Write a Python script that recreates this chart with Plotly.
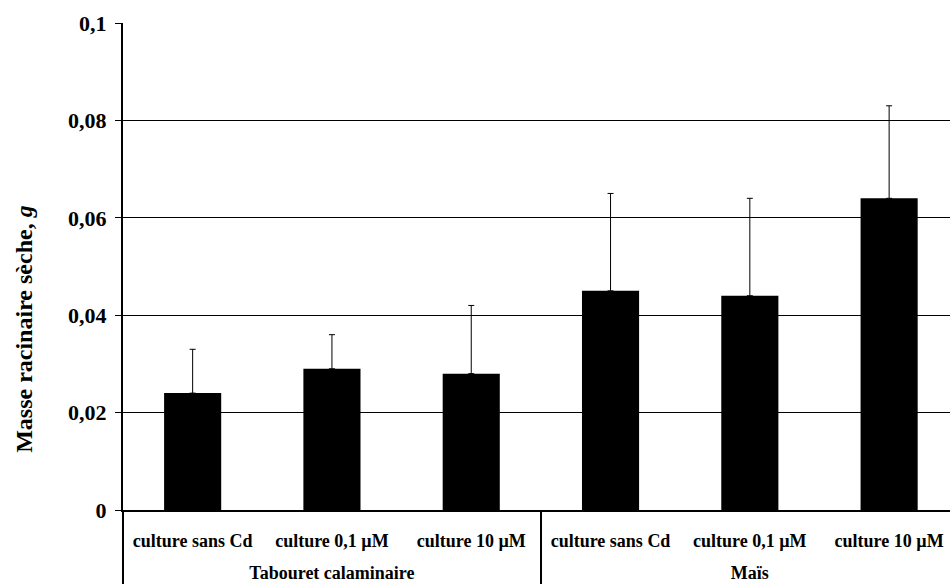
import plotly.graph_objects as go

groups = ["Tabouret calaminaire"] * 3 + ["Maïs"] * 3
conditions = ["culture sans Cd", "culture 0,1 µM", "culture 10 µM"] * 2
masse = [0.024, 0.029, 0.028, 0.045, 0.044, 0.064]
erreur = [0.009, 0.007, 0.014, 0.020, 0.020, 0.019]

FONT = "Liberation Serif"

fig = go.Figure()
fig.add_trace(go.Bar(
    x=[["<br>" + g for g in groups], conditions],
    y=masse,
    marker=dict(color="black", line=dict(width=0)),
    error_y=dict(type="data", symmetric=False, array=erreur,
                 arrayminus=[0] * len(erreur),
                 color="black", thickness=1, width=3),
))

fig.update_layout(
    width=950, height=584,
    margin=dict(l=123, r=0, t=23, b=74),
    plot_bgcolor="white", paper_bgcolor="white",
    separators=", ",
    bargap=0.59,
    showlegend=False,
    font=dict(family=FONT, color="black"),
    xaxis=dict(
        type="multicategory",
        range=[-0.5, 5.437],
        showline=True, linecolor="black", linewidth=2,
        ticks="",
        showdividers=True, dividercolor="black", dividerwidth=2,
        tickfont=dict(family=FONT, size=18, weight="bold", color="black"),
        ticklabelstandoff=13,
        showgrid=False,
    ),
    yaxis=dict(
        range=[0, 0.1], dtick=0.02, tick0=0,
        showgrid=True, gridcolor="black", gridwidth=1,
        showline=True, linecolor="black", linewidth=2,
        ticks="outside", ticklen=6, tickcolor="black", tickwidth=1,
        zeroline=False,
        tickfont=dict(family=FONT, size=22, weight="bold", color="black"),
        ticklabelstandoff=4,
    ),
    annotations=[dict(
        text="Masse racinaire sèche, <i>g</i>",
        textangle=-90, xref="paper", yref="paper",
        x=-0.1197, y=0.372, xanchor="center", yanchor="middle",
        showarrow=False,
        font=dict(family=FONT, size=24, weight="bold", color="black"),
    )],
)

# remove the default 8px page margin so the figure fills the 950x584 window
fig.write_html("out.html", config={"displayModeBar": False},
               post_script="document.body.style.margin='0px';")
